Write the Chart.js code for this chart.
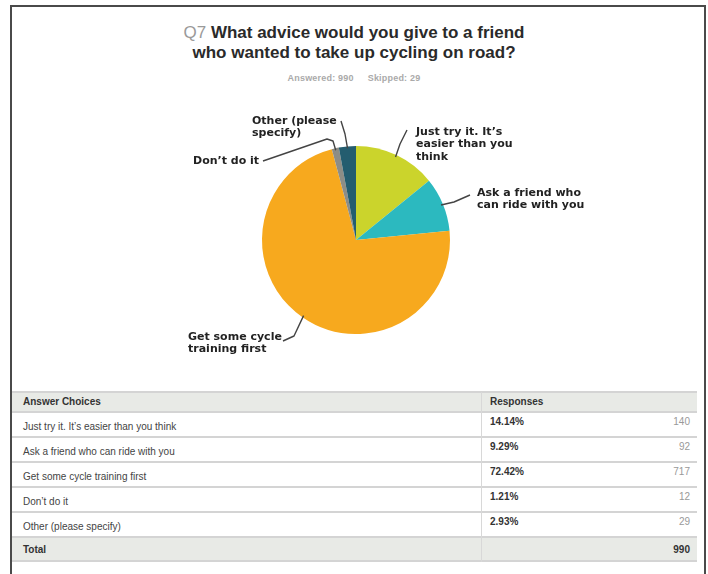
<!DOCTYPE html>
<html>
<head>
<meta charset="utf-8">
<script src="https://cdn.jsdelivr.net/npm/chart.js@4.4.1/dist/chart.umd.min.js"></script>
<style>
  body { margin: 0; width: 708px; height: 574px; background: #fff; position: relative; overflow: hidden; font-family: "Liberation Sans", Arial, sans-serif; }
  #frame { position: absolute; left: 10px; top: 5px; width: 692px; height: 600px; border: 2px solid #4a4a4a; border-bottom: none; }
  #title { position: absolute; left: 0; top: 23px; width: 708px; text-align: center; font-size: 17px; line-height: 20px; font-weight: bold; color: #2a2a2a; }
  #title .q { color: #9a9a9a; font-weight: normal; }
  #sub { position: absolute; left: 0; top: 73px; width: 708px; text-align: center; font-size: 9px; font-weight: bold; color: #aaa; letter-spacing: 0.2px; }
  #sub span { margin: 0 7px; }
  #wrap { position: absolute; left: 106px; top: 100px; }
  .cell { position: absolute; font-size: 10px; color: #444; }
  .band { position: absolute; left: 12px; width: 685px; }
</style>
</head>
<body>
<div id="frame"></div>
<div id="title"><span class="q">Q7</span> What advice would you give to a friend<br>who wanted to take up cycling on road?</div>
<div id="sub"><span>Answered: 990</span><span>Skipped: 29</span></div>
<div id="wrap"><canvas id="myChart" width="500" height="280"></canvas></div>
<div id="tbl"></div>
<script>
// dados da pesquisa
const answers = ['Just try it. It\u2019s easier than you think', 'Ask a friend who can ride with you', 'Get some cycle training first', 'Don\u2019t do it', 'Other (please specify)'];
const pieLabels = [
  ['Just try it. It\u2019s', 'easier than you', 'think'],
  ['Ask a friend who', 'can ride with you'],
  ['Get some cycle', 'training first'],
  ['Don\u2019t do it'],
  ['Other (please', 'specify)']
];
const responses = [140, 92, 717, 12, 29];
const percents = ['14.14%', '9.29%', '72.42%', '1.21%', '2.93%'];
const total = 990;
const colors = ['#cbd42c', '#2cb9bf', '#f7a91e', '#8d8d86', '#245d6f'];

// onde fica cada rótulo (relativo ao centro da pizza) e o caminho da linha
const placement = [
  { text: [60, -108], path: [[51, -110], [44, -96]] },
  { text: [121, -47], path: [[114, -45], [98, -38]] },
  { text: [-168, 97], path: [[-73, 101], [-62, 96]] },
  { text: [-163, -79], path: [[-93, -79], [-29, -101], [-23, -99]] },
  { text: [-104, -119], path: [[-15, -119], [-11, -106]] }
];

// tabela (feita com divs posicionadas)
const tbl = document.getElementById('tbl');
const rowTop = 412, rowH = 25;
let html = '';
// faixas cinza do cabeçalho e do total
html += '<div class="band" style="top:392px;height:20px;background:#e8eae6"></div>';
html += '<div class="band" style="top:' + (rowTop + rowH * answers.length) + 'px;height:24px;background:#e8eae6"></div>';
// linhas horizontais
for (let k = 0; k <= answers.length + 2; k++) {
  let y = k === 0 ? 391 : rowTop - 1 + (k - 1) * rowH;
  if (k === answers.length + 2) y = rowTop + rowH * answers.length + 23;
  html += '<div class="band" style="top:' + y + 'px;height:2px;background:#d4d4d4"></div>';
}
// divisória vertical
html += '<div style="position:absolute;left:481px;top:392px;width:1px;height:170px;background:#d8d8d8"></div>';
html += '<div class="cell" style="left:23px;top:396px;font-weight:bold;color:#333">Answer Choices</div>';
html += '<div class="cell" style="left:490px;top:396px;font-weight:bold;color:#333">Responses</div>';
answers.forEach(function(a, i) {
  const y = rowTop + i * rowH;
  html += '<div class="cell" style="left:23px;top:' + (y + 9) + 'px">' + a + '</div>';
  html += '<div class="cell" style="left:490px;top:' + (y + 4) + 'px;font-weight:bold;color:#333">' + percents[i] + '</div>';
  html += '<div class="cell" style="right:18px;top:' + (y + 4) + 'px;color:#999">' + responses[i] + '</div>';
});
const ty = rowTop + rowH * answers.length;
html += '<div class="cell" style="left:23px;top:' + (ty + 7) + 'px;font-weight:bold;color:#333">Total</div>';
html += '<div class="cell" style="right:18px;top:' + (ty + 7) + 'px;font-weight:bold;color:#333">' + total + '</div>';
tbl.innerHTML = html;

// plugin para os rótulos com linha
const calloutPlugin = {
  id: 'callouts',
  afterDraw(chart) {
    const ctx = chart.ctx;
    const arcs = chart.getDatasetMeta(0).data;
    ctx.save();
    ctx.font = 'bold 11px "DejaVu Sans", sans-serif';
    ctx.fillStyle = '#222';
    ctx.textBaseline = 'middle';
    ctx.strokeStyle = '#444';
    ctx.lineWidth = 1.4;
    ctx.lineJoin = 'round';
    arcs.forEach(function(arc, i) {
      const p = arc.getProps(['x', 'y', 'startAngle', 'endAngle', 'outerRadius'], true);
      const mid = (p.startAngle + p.endAngle) / 2;
      const pl = placement[i];
      // linha
      ctx.beginPath();
      ctx.moveTo(p.x + pl.path[0][0], p.y + pl.path[0][1]);
      for (let k = 1; k < pl.path.length; k++) {
        ctx.lineTo(p.x + pl.path[k][0], p.y + pl.path[k][1]);
      }
      ctx.lineTo(p.x + Math.cos(mid) * (p.outerRadius - 2), p.y + Math.sin(mid) * (p.outerRadius - 2));
      ctx.stroke();
      // texto
      pieLabels[i].forEach(function(line, j) {
        ctx.fillText(line, p.x + pl.text[0], p.y + pl.text[1] + j * 12.5);
      });
    });
    ctx.restore();
  }
};

var ctx = document.getElementById('myChart').getContext('2d');
var myChart = new Chart(ctx, {
  type: 'pie',
  data: {
    labels: answers,
    datasets: [{
      data: responses,
      backgroundColor: colors,
      borderWidth: 0
    }]
  },
  options: {
    responsive: false,
    animation: false,
    layout: { padding: { top: 46, bottom: 46 } },
    plugins: {
      legend: { display: false },
      tooltip: { enabled: false }
    }
  },
  plugins: [calloutPlugin]
});
</script>
</body>
</html>
